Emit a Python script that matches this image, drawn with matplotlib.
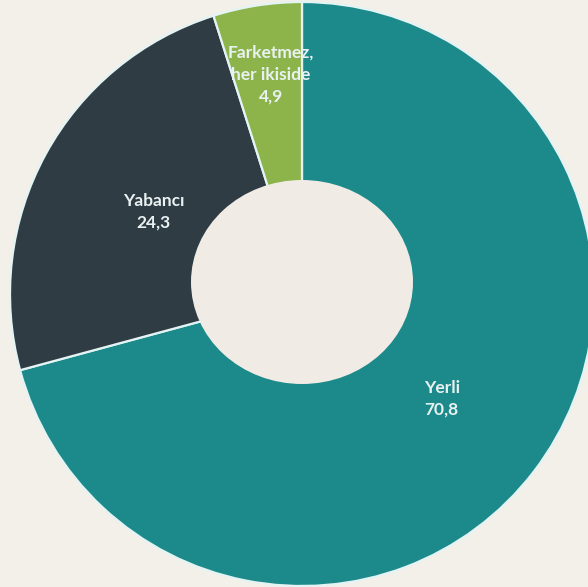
import numpy as np
import matplotlib
matplotlib.use("Agg")
import matplotlib.pyplot as plt
from matplotlib.patches import Ellipse

# data
categories = ["Yerli", "Yabancı", "Farketmez,\nher ikiside"]
values = [70.8, 24.3, 4.9]
value_labels = ["70,8", "24,3", "4,9"]
colors = ["#1c8a8a", "#2f3c44", "#8db44b"]
label_radius = [0.59, 0.59, 0.76]

W, H = 588, 587
fig = plt.figure(figsize=(W / 100, H / 100), dpi=100)
fig.patch.set_facecolor("#f3f0ea")
ax = fig.add_axes([0, 0, 1, 1])
ax.set_facecolor("#f3f0ea")

cx, cy, r = 302, H - 294, 292
wedges, _ = ax.pie(values, colors=colors, startangle=90, counterclock=False,
                   center=(cx, cy), radius=r, frame=True,
                   wedgeprops=dict(edgecolor="#e4f3f3", linewidth=1.6))
ax.set_xlim(0, W)
ax.set_ylim(0, H)
ax.set_aspect("auto")
ax.axis("off")

# inner hole (slightly oval, as in the original)
ax.add_patch(Ellipse((302, H - 282), 222, 204, facecolor="#f0ebe4",
                     edgecolor="none", zorder=5))

for w, name, val, lr in zip(wedges, categories, value_labels, label_radius):
    ang = np.deg2rad((w.theta1 + w.theta2) / 2)
    x = cx + lr * r * np.cos(ang)
    y = cy + lr * r * np.sin(ang)
    ax.text(x + 3, y, name + "\n" + val, ha="center", va="center",
            fontsize=12.5, fontweight="bold", family="Lato",
            color="#e9f1f2", linespacing=1.45, zorder=6)

fig.savefig("out.png", dpi=100, facecolor=fig.get_facecolor())
